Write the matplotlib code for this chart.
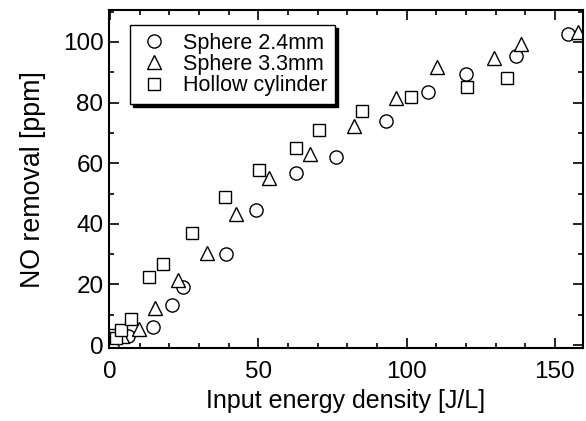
import matplotlib
matplotlib.use('Agg')
import matplotlib.pyplot as plt
from matplotlib.ticker import MultipleLocator

plt.rcParams['font.family'] = ['Liberation Sans', 'DejaVu Sans']

# sphere 2.4 mm
s24_x = [0.3, 2.0, 6.0, 14.6, 21.1, 24.7, 39.1, 49.3, 62.9, 76.2, 93.0, 107.2, 120.2, 136.8, 154.4]
s24_y = [0.2, 2.5, 3.0, 6.0, 13.2, 19.2, 30.2, 44.5, 56.9, 62.0, 74.0, 83.4, 89.5, 95.5, 102.7]
# sphere 3.3 mm
s33_x = [1.0, 4.0, 9.9, 15.2, 23.0, 32.8, 42.4, 53.6, 67.4, 82.3, 96.4, 110.1, 129.4, 138.7, 157.7]
s33_y = [1.0, 3.0, 5.2, 12.4, 21.4, 30.4, 43.4, 55.2, 63.2, 72.2, 81.6, 91.7, 94.8, 99.3, 103.2]
# hollow cylinder
hc_x = [0.5, 2.1, 3.8, 7.0, 13.2, 18.0, 27.6, 38.8, 50.3, 62.6, 70.5, 84.9, 101.4, 120.4, 133.7]
hc_y = [3.5, 2.2, 5.0, 8.6, 22.5, 26.7, 36.9, 48.9, 57.8, 65.0, 71.0, 77.2, 82.0, 85.1, 88.1]

fig = plt.figure(figsize=(5.86, 4.21), dpi=100)
ax = fig.add_axes([0.186, 0.173, 0.809, 0.803])

mk = dict(linestyle='none', mfc='white', mec='black', mew=1.0)
ax.plot(s24_x, s24_y, marker='o', markersize=9.5, label='Sphere 2.4mm', **mk)
ax.plot(s33_x, s33_y, marker='^', markersize=10.5, label='Sphere 3.3mm', **mk)
ax.plot(hc_x, hc_y, marker='s', markersize=9, label='Hollow cylinder', **mk)

ax.set_xlim(-0.3, 159.5)
ax.set_ylim(-1, 110.5)
ax.xaxis.set_major_locator(MultipleLocator(50))
ax.xaxis.set_minor_locator(MultipleLocator(10))
ax.yaxis.set_major_locator(MultipleLocator(20))
ax.yaxis.set_minor_locator(MultipleLocator(10))
ax.tick_params(which='both', direction='in', top=True, right=True, labelsize=17.5, width=1.2)
ax.tick_params(which='major', length=7)
ax.tick_params(which='minor', length=3.5)
ax.tick_params(axis='x', which='major', pad=9.5)
ax.tick_params(axis='y', which='major', pad=4)
for sp in ax.spines.values():
    sp.set_linewidth(1.5)

ax.set_xlabel('Input energy density [J/L]', fontsize=18, labelpad=4)
ax.set_ylabel('NO removal [ppm]', fontsize=19.3, labelpad=12)

leg = ax.legend(loc='upper left', bbox_to_anchor=(0.044, 0.956), borderaxespad=0,
                fontsize=15.5, fancybox=False, edgecolor='black', framealpha=1,
                shadow={'color': 'black', 'alpha': 1}, handletextpad=0.6,
                labelspacing=0.02, borderpad=0.35, handlelength=1.5)
leg.get_frame().set_linewidth(1.0)

fig.savefig('out.png', dpi=100)
